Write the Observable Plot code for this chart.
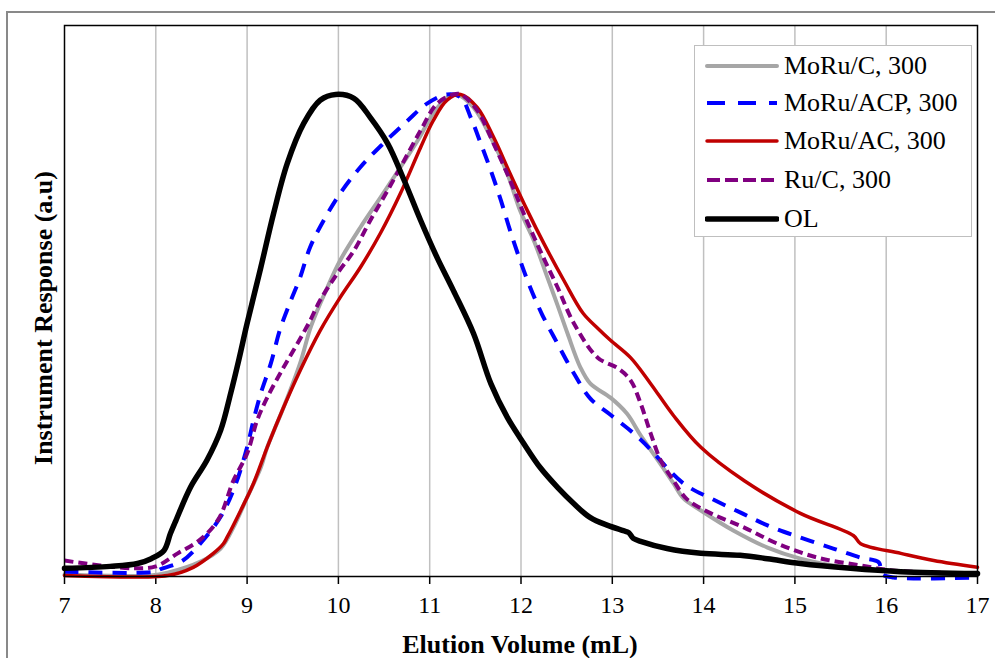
<!DOCTYPE html>
<html><head><meta charset="utf-8">
<script src="https://cdn.jsdelivr.net/npm/d3@7"></script>
<script src="https://cdn.jsdelivr.net/npm/@observablehq/plot@0.6"></script>
<style>
body{margin:0;background:#fff;}
#wrap{position:relative;width:995px;height:658px;overflow:hidden;font-family:"Liberation Serif","Times New Roman",serif;}
#legend{position:absolute;left:694px;top:45px;width:278px;height:192px;box-sizing:border-box;border:1.5px solid #BFBFBF;background:#fff;}
.item{position:absolute;left:10px;height:30px;display:flex;align-items:center;font-size:26px;color:#000;white-space:nowrap;}
.item svg{margin-right:5px;}
</style></head>
<body><div id="wrap"></div>
<script>
// Tick labels
const xTicks = [7, 8, 9, 10, 11, 12, 13, 14, 15, 16, 17];
const gridTicks = [8, 9, 10, 11, 12, 13, 14, 15, 16];
const seriesNames = ["MoRu/C, 300", "MoRu/ACP, 300", "MoRu/AC, 300", "Ru/C, 300", "OL"];

// [elution volume (mL), response (% of peak)]
const moruC = [[7.0,0.4],[7.94,0.2],[8.13,0.8],[8.49,3.1],[8.71,5.8],[8.85,10.2],[9.0,16.4],[9.15,22.6],[9.22,26.8],[9.40,35.1],[9.58,44.2],[9.70,51.9],[9.88,60.0],[10.02,65.6],[10.24,72.4],[10.46,78.6],[10.68,84.9],[10.87,90.5],[11.04,96.1],[11.19,99.4],[11.30,100],[11.48,97.3],[11.67,91.1],[11.85,83.6],[11.99,75.9],[12.14,69.7],[12.29,62.0],[12.40,56.3],[12.51,50.4],[12.65,43.4],[12.76,40.0],[12.98,37.1],[13.16,33.8],[13.31,29.3],[13.50,24.1],[13.67,19.3],[13.78,16.2],[13.97,13.7],[14.33,9.5],[14.70,6.0],[15.06,3.7],[15.42,2.3],[15.79,1.5],[16.2,1.0],[17.0,0.4]];
const moruACP = [[7.0,1.0],[8.0,1.0],[8.05,1.5],[8.28,3.1],[8.50,7.1],[8.72,12.7],[8.87,18.9],[9.0,26.8],[9.07,32.4],[9.15,38.0],[9.26,44.2],[9.36,51.2],[9.48,57.3],[9.58,62.0],[9.69,68.3],[9.84,73.9],[10.02,79.5],[10.24,84.9],[10.49,89.8],[10.76,94.6],[10.97,98.1],[11.19,100],[11.34,99.4],[11.45,95.2],[11.56,89.8],[11.67,84.2],[11.78,78.0],[11.88,71.8],[11.99,65.6],[12.10,60.0],[12.23,54.4],[12.40,48.3],[12.58,42.1],[12.76,36.9],[12.99,33.4],[13.30,28.6],[13.78,19.3],[14.08,16.2],[14.40,13.3],[14.70,10.6],[15.06,8.1],[15.42,5.8],[15.72,3.9],[15.92,2.9],[15.95,0.6],[16.08,-0.2],[17.0,-0.2]];
const moruAC = [[7.0,0.2],[8.13,0.2],[8.41,1.9],[8.63,4.8],[8.74,6.8],[8.78,8.1],[8.93,13.7],[9.07,19.3],[9.22,26.8],[9.40,35.1],[9.58,42.7],[9.80,51.0],[10.02,57.9],[10.24,64.1],[10.46,71.2],[10.68,79.5],[10.90,89.0],[11.04,94.6],[11.19,98.8],[11.34,100],[11.52,97.3],[11.70,91.1],[11.88,83.6],[12.07,75.9],[12.25,69.1],[12.47,61.4],[12.68,54.6],[12.84,51.5],[12.98,49.0],[13.20,45.4],[13.42,40.0],[13.67,33.4],[13.97,26.8],[14.45,19.8],[15.06,13.1],[15.64,8.5],[15.72,6.8],[16.16,4.8],[16.52,3.3],[17.0,1.9]];
const ruC = [[7.0,3.3],[7.39,2.3],[7.76,1.7],[8.0,2.1],[8.24,4.8],[8.49,7.7],[8.69,12.0],[8.85,19.9],[9.0,25.5],[9.11,32.4],[9.22,37.1],[9.40,43.4],[9.55,48.3],[9.68,52.7],[9.80,57.3],[9.99,62.9],[10.17,67.6],[10.35,73.9],[10.54,80.1],[10.72,86.3],[10.90,92.5],[11.08,98.1],[11.26,100],[11.34,100],[11.52,96.7],[11.70,89.8],[11.88,82.2],[12.03,75.3],[12.21,67.6],[12.40,60.0],[12.58,52.5],[12.84,45.4],[13.06,43.2],[13.20,40.7],[13.31,35.9],[13.42,29.7],[13.53,24.1],[13.67,19.9],[13.82,16.0],[14.08,13.1],[14.44,10.2],[14.81,6.8],[15.25,3.9],[15.72,2.3],[16.1,1.2],[17.0,0.6]];
const ol = [[7.0,1.7],[7.5,2.1],[7.8,2.7],[7.95,3.7],[8.09,5.4],[8.16,8.9],[8.22,11.6],[8.38,18.5],[8.56,24.1],[8.71,30.3],[8.82,38.0],[8.91,45.0],[9.0,52.5],[9.15,64.1],[9.29,75.3],[9.44,85.7],[9.62,94.0],[9.80,98.8],[9.97,100],[10.17,99.2],[10.35,95.2],[10.54,89.8],[10.72,82.2],[10.90,73.9],[11.08,66.2],[11.26,59.3],[11.48,50.4],[11.67,40.0],[11.85,33.0],[12.03,27.6],[12.21,22.6],[12.40,18.5],[12.58,15.1],[12.76,12.2],[12.95,10.6],[13.12,9.5],[13.18,9.1],[13.23,7.9],[13.31,7.3],[13.6,5.8],[13.97,4.8],[14.4,4.4],[14.7,3.7],[15.06,2.7],[15.61,1.7],[16.16,1.0],[17.0,0.6]];

const styles = [
  {data: moruC,   stroke: "#A6A6A6", width: 4,   dash: null},
  {data: moruACP, stroke: "#0000FF", width: 4,   dash: "14,10"},
  {data: moruAC,  stroke: "#C00000", width: 3.5, dash: null},
  {data: ruC,     stroke: "#800080", width: 4,   dash: "9,5"},
  {data: ol,      stroke: "#000000", width: 5.5, dash: null}
];

const lineMarks = styles.map(s => Plot.line(s.data, {
  x: d => d[0], y: d => d[1], stroke: s.stroke, strokeWidth: s.width,
  strokeDasharray: s.dash, curve: "catmull-rom", strokeLinejoin: "round",
  strokeLinecap: s.dash ? "butt" : "round"
}));

const chart = Plot.plot({
  width: 995, height: 658,
  marginLeft: 64, marginRight: 18, marginTop: 25, marginBottom: 82,
  style: {fontFamily: "'Liberation Serif', 'Times New Roman', serif", fontSize: "24px", background: "transparent", color: "#000"},
  x: {domain: [7, 17], ticks: xTicks},
  y: {domain: [0, 114.3]},
  marks: [
    Plot.ruleX(gridTicks, {stroke: "#C0C0C0", strokeWidth: 1.5}),
    Plot.axisY({ticks: [], label: null, tickSize: 0}),
    Plot.axisX({ticks: xTicks, tickSize: 8, tickPadding: 11, tickFormat: d => String(d), label: null, stroke: "#000", strokeWidth: 1.5, fill: "#000"}),
    ...lineMarks,
    Plot.frame({stroke: "#000", strokeWidth: 1.5})
  ]
});

const wrap = document.getElementById("wrap");
wrap.appendChild(chart);
const svg = d3.select(chart);
svg.insert("rect", ":first-child").attr("x", 0).attr("y", 0).attr("width", 995).attr("height", 658).attr("fill", "#fff");
svg.append("rect").attr("x", 7).attr("y", 12).attr("width", 1000).attr("height", 700)
  .attr("fill", "none").attr("stroke", "#898989").attr("stroke-width", 2);
svg.append("text").attr("x", 520).attr("y", 653).attr("text-anchor", "middle")
  .attr("font-weight", "bold").attr("font-size", 26).text("Elution Volume (mL)");
svg.append("text").attr("transform", "translate(52,318) rotate(-90)").attr("text-anchor", "middle")
  .attr("font-weight", "bold").attr("font-size", 26).text("Instrument Response (a.u)");

// Legend
const legend = document.createElement("div");
legend.id = "legend";
const rowY = [20, 57, 95, 134, 173];
styles.forEach((s, i) => {
  const item = document.createElement("div");
  item.className = "item";
  item.style.top = (rowY[i] - 15) + "px";
  const ns = "http://www.w3.org/2000/svg";
  const sw = document.createElementNS(ns, "svg");
  sw.setAttribute("width", 74); sw.setAttribute("height", 30);
  const ln = document.createElementNS(ns, "line");
  ln.setAttribute("x1", 2); ln.setAttribute("x2", 72); ln.setAttribute("y1", 15); ln.setAttribute("y2", 15);
  ln.setAttribute("stroke", s.stroke); ln.setAttribute("stroke-width", s.width);
  if (s.dash) ln.setAttribute("stroke-dasharray", s.dash === "14,10" ? "18,13" : "13,5");
  ln.setAttribute("stroke-linecap", s.dash ? "butt" : "round");
  sw.appendChild(ln);
  item.appendChild(sw);
  const t = document.createElement("span");
  t.textContent = seriesNames[i];
  item.appendChild(t);
  legend.appendChild(item);
});
wrap.appendChild(legend);
</script>
</body></html>
